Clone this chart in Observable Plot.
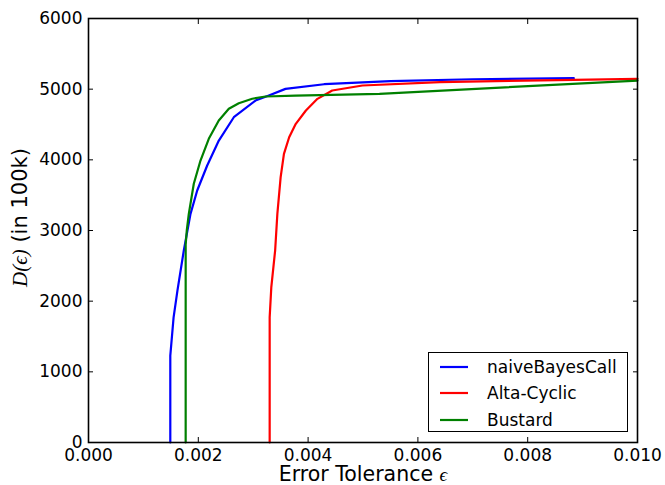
<!DOCTYPE html>
<html><head><meta charset="utf-8">
<script src="https://cdn.jsdelivr.net/npm/d3@7"></script>
<script src="https://cdn.jsdelivr.net/npm/@observablehq/plot@0.6"></script>
<style>
body{margin:0;background:#fff;}
#wrap{position:relative;width:665px;height:485px;font-family:"DejaVu Sans",sans-serif;}
#legend{position:absolute;left:428px;top:352px;width:200px;height:80px;border:1px solid #000;box-sizing:border-box;background:#fff;}
.row{position:absolute;left:0;height:22px;font-size:17px;color:#000;}
.row svg{position:absolute;left:0;top:0;}
.row span{position:absolute;left:58px;top:0;line-height:22px;white-space:nowrap;}
</style></head><body><div id="wrap"></div>
<script>
const seriesNames = ["naiveBayesCall", "Alta-Cyclic", "Bustard"];
const seriesColors = ["#0000ff", "#ff0000", "#008000"];

const naiveX = [0.00149, 0.00149, 0.00155, 0.00162, 0.001736, 0.001858, 0.00198, 0.002162, 0.002374, 0.002647, 0.003042, 0.003285, 0.003588, 0.00429, 0.0055, 0.0070, 0.00884];
const naiveY = [0, 1230, 1770, 2150, 2717, 3236, 3566, 3920, 4273, 4603, 4839, 4910, 5004, 5070, 5115, 5140, 5155];

const altaX = [0.0033, 0.0033, 0.00333, 0.0034, 0.00344, 0.0035, 0.00356, 0.003655, 0.003776, 0.00396, 0.00417, 0.00444, 0.00499, 0.0064, 0.00884, 0.01];
const altaY = [0, 1770, 2200, 2720, 3236, 3754, 4085, 4320, 4509, 4698, 4863, 4981, 5052, 5100, 5132, 5146];

const bustX = [0.00177, 0.00177, 0.00179, 0.001827, 0.001918, 0.00204, 0.002191, 0.002373, 0.002556, 0.002738, 0.002982, 0.003224, 0.00377, 0.0053, 0.01];
const bustY = [0, 2800, 3000, 3236, 3661, 3990, 4298, 4557, 4722, 4801, 4864, 4896, 4910, 4934, 5122];

const xTicks = [0, 0.002, 0.004, 0.006, 0.008, 0.010];
const yTicks = [0, 1000, 2000, 3000, 4000, 5000, 6000];
const xLabelMain = "Error Tolerance ";
const xLabelSym = "ϵ";
const yLabelSym = "D(ϵ)";
const yLabelMain = " (in 100k)";

const rows = [];
[[naiveX, naiveY], [altaX, altaY], [bustX, bustY]].forEach(([xs, ys], i) =>
  xs.forEach((x, j) => rows.push({series: seriesNames[i], x, y: ys[j]})));

const blank = () => "";
const chart = Plot.plot({
  width: 665, height: 485,
  marginLeft: 88, marginRight: 28, marginTop: 18, marginBottom: 43,
  style: {fontFamily: "DejaVu Sans", fontSize: "17px", background: "white", color: "black"},
  x: {domain: [0, 0.01]},
  y: {domain: [0, 6000]},
  color: {domain: seriesNames, range: seriesColors},
  marks: [
    Plot.axisX(xTicks, {anchor: "bottom", tickSize: 0, tickPadding: 6, tickFormat: d3.format(".3f"), label: null}),
    Plot.axisX(xTicks, {anchor: "bottom", tickSize: -5, tickFormat: blank, label: null}),
    Plot.axisX(xTicks, {anchor: "top", tickSize: -5, tickFormat: blank, label: null}),
    Plot.axisY(yTicks, {anchor: "left", tickSize: 0, tickPadding: 6, tickFormat: d3.format("d"), label: null}),
    Plot.axisY(yTicks, {anchor: "left", tickSize: -5, tickFormat: blank, label: null}),
    Plot.axisY(yTicks, {anchor: "right", tickSize: -5, tickFormat: blank, label: null}),
    Plot.line(rows, {x: "x", y: "y", z: "series", stroke: "series", strokeWidth: 2.2}),
    Plot.frame({stroke: "black", strokeWidth: 1.6}),
    Plot.text([xLabelMain + xLabelSym], {frameAnchor: "bottom", lineAnchor: "middle", textAnchor: "middle", dy: 31.5, fontSize: 20.5, text: d => d}),
    Plot.text([yLabelSym + yLabelMain], {frameAnchor: "left", textAnchor: "middle", lineAnchor: "middle", rotate: -90, dx: -68, dy: -13, fontSize: 21, text: d => d})
  ]
});

// style the math symbols in the axis labels
d3.select(chart).selectAll("text").each(function() {
  const t = this.textContent;
  if (t === xLabelMain + xLabelSym) {
    const s = d3.select(this); s.text("");
    s.append("tspan").text(xLabelMain);
    s.append("tspan").attr("font-family", "Liberation Serif").attr("font-style", "italic").attr("font-size", 19).text(xLabelSym);
  } else if (t === yLabelSym + yLabelMain) {
    const s = d3.select(this); s.text("");
    s.append("tspan").attr("font-family", "Liberation Serif").attr("font-style", "italic").text(yLabelSym);
    s.append("tspan").text(yLabelMain);
  }
});

const wrap = document.getElementById("wrap");
wrap.appendChild(chart);

const legend = document.createElement("div");
legend.id = "legend";
const rowTops = [3, 29, 56];
seriesNames.forEach((name, i) => {
  const r = document.createElement("div");
  r.className = "row";
  r.style.top = rowTops[i] + "px";
  r.innerHTML = `<svg width="50" height="22"><line x1="11" x2="39" y1="11" y2="11" stroke="${seriesColors[i]}" stroke-width="2.2"/></svg><span>${name}</span>`;
  legend.appendChild(r);
});
wrap.appendChild(legend);
</script></body></html>
